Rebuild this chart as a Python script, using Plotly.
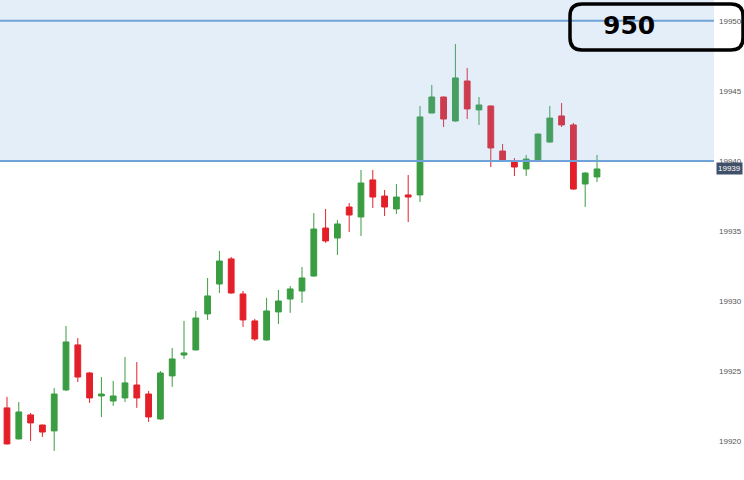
import plotly.graph_objects as go

idx = list(range(51))
opens = [19922.4, 19920.19, 19921.9, 19921.18, 19920.76, 19923.68, 19926.89, 19924.89, 19923.25, 19922.89,
         19923.11, 19924.03, 19923.39, 19921.61, 19924.68, 19926.17, 19926.53, 19929.1, 19931.23, 19933.02,
         19930.52, 19928.6, 19927.24, 19929.24, 19930.16, 19930.73, 19931.8, 19935.22, 19934.51, 19936.72,
         19936.01, 19938.65, 19937.5, 19936.58, 19937.58, 19937.58, 19943.42, 19944.56, 19942.85, 19945.7,
         19943.64, 19943.92, 19940.71, 19939.93, 19939.43, 19940.0, 19941.35, 19943.21, 19942.57, 19938.36,
         19938.86]
highs = [19923.18, 19922.82, 19922.04, 19921.2, 19923.82, 19928.24, 19927.38, 19924.95, 19924.6, 19924.32,
         19926.03, 19925.67, 19923.61, 19925.03, 19926.67, 19928.6, 19929.31, 19931.66, 19933.59, 19933.16,
         19930.73, 19928.74, 19930.24, 19930.81, 19931.09, 19932.44, 19936.29, 19936.58, 19935.79, 19937.0,
         19939.36, 19939.36, 19937.93, 19938.36, 19939.0, 19943.92, 19945.42, 19944.6, 19948.34, 19946.63,
         19944.56, 19943.95, 19941.21, 19940.21, 19940.43, 19941.95, 19943.92, 19944.13, 19942.71, 19939.2,
         19940.43]
lows = [19919.8, 19920.15, 19920.04, 19920.33, 19919.33, 19923.6, 19924.25, 19922.75, 19921.75, 19922.54,
        19922.82, 19922.4, 19921.4, 19921.55, 19923.9, 19925.89, 19926.5, 19928.67, 19930.59, 19930.55,
        19928.17, 19927.17, 19927.2, 19928.38, 19929.17, 19929.88, 19931.75, 19934.16, 19933.3, 19934.94,
        19934.65, 19936.65, 19936.08, 19936.22, 19935.65, 19937.08, 19943.4, 19942.42, 19942.8, 19942.99,
        19942.57, 19939.57, 19939.93, 19938.93, 19938.93, 19939.95, 19941.3, 19942.42, 19937.95, 19936.72,
        19938.5]
closes = [19919.83, 19922.11, 19921.33, 19920.68, 19923.39, 19927.1, 19924.6, 19923.11, 19923.39, 19923.25,
          19924.18, 19923.11, 19921.75, 19924.89, 19925.89, 19926.32, 19928.81, 19930.38, 19932.87, 19930.59,
          19928.67, 19927.31, 19929.31, 19930.02, 19930.88, 19931.66, 19935.15, 19934.3, 19935.51, 19936.15,
          19938.43, 19937.43, 19936.72, 19937.43, 19937.43, 19943.14, 19944.56, 19942.99, 19945.92, 19943.71,
          19943.99, 19940.93, 19940.07, 19939.57, 19940.14, 19941.92, 19943.06, 19942.57, 19938.0, 19939.14,
          19939.43]

y_ticks = [19920, 19925, 19930, 19935, 19940, 19945, 19950]
zone_low = 19940
zone_high = 19950
box_text = "950"
last_label = "19939"

fig = go.Figure()
fig.add_trace(go.Candlestick(
    x=idx, open=opens, high=highs, low=lows, close=closes,
    increasing=dict(line=dict(color="#3a9d42", width=1), fillcolor="#3a9d42"),
    decreasing=dict(line=dict(color="#e3202a", width=1), fillcolor="#e3202a"),
    whiskerwidth=0, showlegend=False, hoverinfo="skip",
))

# shaded zone
fig.add_shape(type="rect", xref="paper", x0=0, x1=1, yref="y", y0=zone_low, y1=19951.6,
              fillcolor="rgba(120,170,225,0.2)", line=dict(width=0), layer="above")
for lv in (zone_low, zone_high):
    fig.add_shape(type="line", xref="paper", x0=0, x1=1, yref="y", y0=lv, y1=lv,
                  line=dict(color="#6fa3d8", width=2), layer="above")

# rounded box (paper coordinates)
L, R, T, B = 570 / 714, 743 / 714, 1 - 4 / 480, 1 - 50 / 480
rx, ry = 12 / 714, 12 / 480
path = (f"M {L+rx},{T} L {R-rx},{T} Q {R},{T} {R},{T-ry} L {R},{B+ry} Q {R},{B} {R-rx},{B} "
        f"L {L+rx},{B} Q {L},{B} {L},{B+ry} L {L},{T-ry} Q {L},{T} {L+rx},{T} Z")
fig.add_shape(type="path", xref="paper", yref="paper", path=path,
              line=dict(color="black", width=3.5), fillcolor="rgba(0,0,0,0)", layer="above")
fig.add_annotation(xref="paper", yref="paper", x=629 / 714, y=1 - 25 / 480, text=f"<b>{box_text}</b>",
                   showarrow=False, xanchor="center", yanchor="middle",
                   font=dict(family="DejaVu Sans", size=25, color="black"))

# last price tag
fig.add_annotation(xref="paper", yref="y", x=716 / 714, y=closes[-1], xanchor="left", text=last_label,
                   showarrow=False, bgcolor="#3f5068", borderpad=1,
                   font=dict(family="Liberation Sans", size=8, color="white"))

fig.update_layout(
    width=744, height=480, margin=dict(l=0, r=30, t=0, b=0, autoexpand=False),
    paper_bgcolor="white", plot_bgcolor="white",
    xaxis=dict(range=[-7 / 11.8, 707 / 11.8], visible=False, rangeslider=dict(visible=False),
               showgrid=False),
    yaxis=dict(range=[19917.26, 19951.475], side="right", tickvals=y_ticks,
               ticktext=[str(v) for v in y_ticks], showgrid=False, zeroline=False, ticks="",
               tickfont=dict(family="Liberation Sans", size=8, color="#555555"), ticklabelstandoff=4),
    showlegend=False,
)

fig.write_html("out.html", config={"displayModeBar": False},
               post_script="document.body.style.margin='0';document.body.style.overflow='hidden';")
